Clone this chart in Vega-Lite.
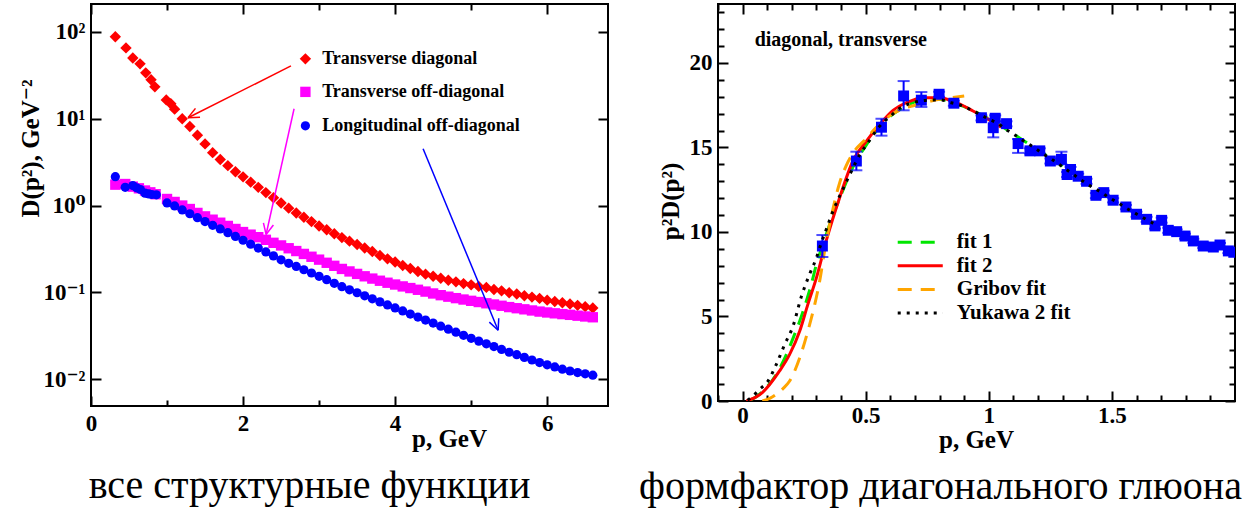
{
  "$schema": "https://vega.github.io/schema/vega-lite/v6.json",
  "background": "white",
  "padding": {"left": 17, "top": 2, "right": 5, "bottom": 5},
  "bounds": "flush",
  "spacing": 110,
  "resolve": {"scale": {"color": "independent", "shape": "independent", "size": "independent", "strokeDash": "independent"}},
  "config": {
    "font": "'Liberation Serif', 'DejaVu Serif', serif",
    "view": {"stroke": "black", "strokeWidth": 2, "fill": "white"},
    "axis": {"domain": false, "grid": false, "ticks": true, "tickColor": "black", "tickWidth": 2,
      "labelColor": "black", "labelFont": "'Liberation Serif', 'DejaVu Serif', serif", "labelFontWeight": "bold", "labelFontSize": 23,
      "labelFlush": false, "labelOverlap": false,
      "titleColor": "black", "titleFont": "'Liberation Serif', 'DejaVu Serif', serif", "titleFontWeight": "bold", "titleFontSize": 25},
    "text": {"font": "'Liberation Serif', 'DejaVu Serif', serif"},
    "title": {"font": "'Liberation Serif', 'DejaVu Serif', serif"}
  },
  "datasets": {
    "left": [
      {"p":0.32,"D":88,"s":"td"},{"p":0.46,"D":65.5,"s":"td"},{"p":0.55,"D":50.2,"s":"td"},{"p":0.645,"D":42.9,"s":"td"},{"p":0.72,"D":33.8,"s":"td"},{"p":0.79,"D":28.1,"s":"td"},{"p":0.84,"D":23.3,"s":"td"},{"p":0.99,"D":16.5,"s":"td"},{"p":1.05,"D":14.9,"s":"td"},{"p":1.1,"D":12.9,"s":"td"},{"p":1.2,"D":10.0,"s":"td"},{"p":1.3,"D":8.13,"s":"td"},{"p":1.4,"D":6.46,"s":"td"},{"p":1.5,"D":5.13,"s":"td"},{"p":1.6,"D":4.07,"s":"td"},{"p":1.7,"D":3.39,"s":"td"},{"p":1.8,"D":2.88,"s":"td"},{"p":1.9,"D":2.45,"s":"td"},{"p":2.0,"D":2.14,"s":"td"},{"p":2.1,"D":1.86,"s":"td"},{"p":2.2,"D":1.62,"s":"td"},{"p":2.3,"D":1.41,"s":"td"},{"p":2.4,"D":1.23,"s":"td"},{"p":2.5,"D":1.07,"s":"td"},{"p":2.6,"D":0.933,"s":"td"},{"p":2.7,"D":0.822,"s":"td"},{"p":2.8,"D":0.733,"s":"td"},{"p":2.9,"D":0.653,"s":"td"},{"p":3.0,"D":0.582,"s":"td"},{"p":3.1,"D":0.525,"s":"td"},{"p":3.2,"D":0.473,"s":"td"},{"p":3.3,"D":0.427,"s":"td"},{"p":3.4,"D":0.389,"s":"td"},{"p":3.5,"D":0.355,"s":"td"},{"p":3.6,"D":0.324,"s":"td"},{"p":3.7,"D":0.295,"s":"td"},{"p":3.8,"D":0.266,"s":"td"},{"p":3.9,"D":0.243,"s":"td"},{"p":4.0,"D":0.224,"s":"td"},{"p":4.1,"D":0.204,"s":"td"},{"p":4.2,"D":0.188,"s":"td"},{"p":4.3,"D":0.174,"s":"td"},{"p":4.4,"D":0.162,"s":"td"},{"p":4.5,"D":0.153,"s":"td"},{"p":4.6,"D":0.145,"s":"td"},{"p":4.7,"D":0.138,"s":"td"},{"p":4.8,"D":0.132,"s":"td"},{"p":4.9,"D":0.126,"s":"td"},{"p":5.0,"D":0.122,"s":"td"},{"p":5.1,"D":0.117,"s":"td"},{"p":5.2,"D":0.114,"s":"td"},{"p":5.3,"D":0.108,"s":"td"},{"p":5.4,"D":0.104,"s":"td"},{"p":5.5,"D":0.0989,"s":"td"},{"p":5.6,"D":0.0955,"s":"td"},{"p":5.7,"D":0.0912,"s":"td"},{"p":5.8,"D":0.0881,"s":"td"},{"p":5.9,"D":0.0851,"s":"td"},{"p":6.0,"D":0.0813,"s":"td"},{"p":6.1,"D":0.0785,"s":"td"},{"p":6.2,"D":0.0759,"s":"td"},{"p":6.3,"D":0.0733,"s":"td"},{"p":6.4,"D":0.0708,"s":"td"},{"p":6.5,"D":0.0684,"s":"td"},{"p":6.6,"D":0.0661,"s":"td"},
      {"p":0.32,"D":1.74,"s":"tod"},{"p":0.45,"D":1.77,"s":"tod"},{"p":0.55,"D":1.65,"s":"tod"},{"p":0.63,"D":1.58,"s":"tod"},{"p":0.71,"D":1.49,"s":"tod"},{"p":0.78,"D":1.42,"s":"tod"},{"p":0.85,"D":1.35,"s":"tod"},{"p":1.0,"D":1.19,"s":"tod"},{"p":1.1,"D":1.10,"s":"tod"},{"p":1.2,"D":1.00,"s":"tod"},{"p":1.3,"D":0.912,"s":"tod"},{"p":1.4,"D":0.822,"s":"tod"},{"p":1.5,"D":0.750,"s":"tod"},{"p":1.6,"D":0.687,"s":"tod"},{"p":1.7,"D":0.634,"s":"tod"},{"p":1.8,"D":0.582,"s":"tod"},{"p":1.9,"D":0.537,"s":"tod"},{"p":2.0,"D":0.495,"s":"tod"},{"p":2.1,"D":0.462,"s":"tod"},{"p":2.2,"D":0.432,"s":"tod"},{"p":2.3,"D":0.403,"s":"tod"},{"p":2.4,"D":0.372,"s":"tod"},{"p":2.5,"D":0.347,"s":"tod"},{"p":2.6,"D":0.322,"s":"tod"},{"p":2.7,"D":0.299,"s":"tod"},{"p":2.8,"D":0.277,"s":"tod"},{"p":2.9,"D":0.257,"s":"tod"},{"p":3.0,"D":0.238,"s":"tod"},{"p":3.1,"D":0.219,"s":"tod"},{"p":3.2,"D":0.202,"s":"tod"},{"p":3.3,"D":0.186,"s":"tod"},{"p":3.4,"D":0.174,"s":"tod"},{"p":3.5,"D":0.163,"s":"tod"},{"p":3.6,"D":0.153,"s":"tod"},{"p":3.7,"D":0.144,"s":"tod"},{"p":3.8,"D":0.136,"s":"tod"},{"p":3.9,"D":0.129,"s":"tod"},{"p":4.0,"D":0.123,"s":"tod"},{"p":4.1,"D":0.117,"s":"tod"},{"p":4.2,"D":0.112,"s":"tod"},{"p":4.3,"D":0.107,"s":"tod"},{"p":4.4,"D":0.102,"s":"tod"},{"p":4.5,"D":0.097,"s":"tod"},{"p":4.6,"D":0.0927,"s":"tod"},{"p":4.7,"D":0.0891,"s":"tod"},{"p":4.8,"D":0.0857,"s":"tod"},{"p":4.9,"D":0.0826,"s":"tod"},{"p":5.0,"D":0.0798,"s":"tod"},{"p":5.1,"D":0.0773,"s":"tod"},{"p":5.2,"D":0.0748,"s":"tod"},{"p":5.3,"D":0.0724,"s":"tod"},{"p":5.4,"D":0.070,"s":"tod"},{"p":5.5,"D":0.0676,"s":"tod"},{"p":5.6,"D":0.0656,"s":"tod"},{"p":5.7,"D":0.0637,"s":"tod"},{"p":5.8,"D":0.0618,"s":"tod"},{"p":5.9,"D":0.060,"s":"tod"},{"p":6.0,"D":0.0586,"s":"tod"},{"p":6.1,"D":0.0573,"s":"tod"},{"p":6.2,"D":0.0561,"s":"tod"},{"p":6.3,"D":0.055,"s":"tod"},{"p":6.4,"D":0.0538,"s":"tod"},{"p":6.5,"D":0.0527,"s":"tod"},{"p":6.6,"D":0.0516,"s":"tod"},
      {"p":0.32,"D":2.15,"s":"lod"},{"p":0.45,"D":1.62,"s":"lod"},{"p":0.55,"D":1.70,"s":"lod"},{"p":0.6,"D":1.60,"s":"lod"},{"p":0.65,"D":1.53,"s":"lod"},{"p":0.71,"D":1.39,"s":"lod"},{"p":0.76,"D":1.36,"s":"lod"},{"p":0.8,"D":1.34,"s":"lod"},{"p":0.86,"D":1.33,"s":"lod"},{"p":1.0,"D":1.072,"s":"lod"},{"p":1.1,"D":0.989,"s":"lod"},{"p":1.2,"D":0.891,"s":"lod"},{"p":1.3,"D":0.804,"s":"lod"},{"p":1.4,"D":0.724,"s":"lod"},{"p":1.5,"D":0.653,"s":"lod"},{"p":1.6,"D":0.592,"s":"lod"},{"p":1.7,"D":0.537,"s":"lod"},{"p":1.8,"D":0.486,"s":"lod"},{"p":1.9,"D":0.441,"s":"lod"},{"p":2.0,"D":0.398,"s":"lod"},{"p":2.1,"D":0.359,"s":"lod"},{"p":2.2,"D":0.324,"s":"lod"},{"p":2.3,"D":0.292,"s":"lod"},{"p":2.4,"D":0.263,"s":"lod"},{"p":2.5,"D":0.237,"s":"lod"},{"p":2.6,"D":0.216,"s":"lod"},{"p":2.7,"D":0.199,"s":"lod"},{"p":2.8,"D":0.182,"s":"lod"},{"p":2.9,"D":0.167,"s":"lod"},{"p":3.0,"D":0.153,"s":"lod"},{"p":3.1,"D":0.140,"s":"lod"},{"p":3.2,"D":0.127,"s":"lod"},{"p":3.3,"D":0.116,"s":"lod"},{"p":3.4,"D":0.107,"s":"lod"},{"p":3.5,"D":0.0989,"s":"lod"},{"p":3.6,"D":0.0912,"s":"lod"},{"p":3.7,"D":0.0841,"s":"lod"},{"p":3.8,"D":0.0776,"s":"lod"},{"p":3.9,"D":0.0716,"s":"lod"},{"p":4.0,"D":0.0661,"s":"lod"},{"p":4.1,"D":0.061,"s":"lod"},{"p":4.2,"D":0.0562,"s":"lod"},{"p":4.3,"D":0.0519,"s":"lod"},{"p":4.4,"D":0.0479,"s":"lod"},{"p":4.5,"D":0.0442,"s":"lod"},{"p":4.6,"D":0.0407,"s":"lod"},{"p":4.7,"D":0.0376,"s":"lod"},{"p":4.8,"D":0.0347,"s":"lod"},{"p":4.9,"D":0.032,"s":"lod"},{"p":5.0,"D":0.0295,"s":"lod"},{"p":5.1,"D":0.0274,"s":"lod"},{"p":5.2,"D":0.0255,"s":"lod"},{"p":5.3,"D":0.0237,"s":"lod"},{"p":5.4,"D":0.022,"s":"lod"},{"p":5.5,"D":0.0204,"s":"lod"},{"p":5.6,"D":0.0191,"s":"lod"},{"p":5.7,"D":0.0178,"s":"lod"},{"p":5.8,"D":0.0166,"s":"lod"},{"p":5.9,"D":0.0155,"s":"lod"},{"p":6.0,"D":0.0146,"s":"lod"},{"p":6.1,"D":0.0138,"s":"lod"},{"p":6.2,"D":0.013,"s":"lod"},{"p":6.3,"D":0.0124,"s":"lod"},{"p":6.4,"D":0.0119,"s":"lod"},{"p":6.5,"D":0.0115,"s":"lod"},{"p":6.6,"D":0.0111,"s":"lod"}
    ],
    "lerr": [
      {"p":0.32,"lo":81,"hi":95,"s":"td"},
      {"p":0.32,"lo":1.94,"hi":2.4,"s":"lod"}
    ],
    "lleg": [
      {"p":2.82,"tp":3.04,"D":49,"s":"td","t":"Transverse diagonal"},
      {"p":2.82,"tp":3.04,"D":20.4,"s":"tod","t":"Transverse off-diagonal"},
      {"p":2.82,"tp":3.04,"D":8.3,"s":"lod","t":"Longitudinal off-diagonal"}
    ],
    "arr": [
      {"x1":2.63,"y1":40.6,"x2":1.276,"y2":10.27,"c":"#ff0000"},
      {"x1":1.276,"y1":10.27,"x2":1.434,"y2":10.38,"c":"#ff0000"},
      {"x1":1.276,"y1":10.27,"x2":1.374,"y2":13.17,"c":"#ff0000"},
      {"x1":2.671,"y1":13.03,"x2":2.303,"y2":0.464,"c":"#ff00ff"},
      {"x1":2.303,"y1":0.464,"x2":2.399,"y2":0.597,"c":"#ff00ff"},
      {"x1":2.303,"y1":0.464,"x2":2.268,"y2":0.632,"c":"#ff00ff"},
      {"x1":4.368,"y1":4.52,"x2":5.355,"y2":0.0366,"c":"#0000ff"},
      {"x1":5.355,"y1":0.0366,"x2":5.363,"y2":0.0502,"c":"#0000ff"},
      {"x1":5.355,"y1":0.0366,"x2":5.239,"y2":0.0453,"c":"#0000ff"}
    ],
    "sq": [
      {"p":0.324,"v":9.17,"lo":8.52,"hi":9.82},{"p":0.462,"v":14.2,"lo":13.65,"hi":14.75},{"p":0.564,"v":16.2,"lo":15.7,"hi":16.7},{"p":0.654,"v":18.05,"lo":17.2,"hi":18.93},{"p":0.726,"v":17.8,"lo":17.4,"hi":18.28},{"p":0.798,"v":18.15,"lo":18.0,"hi":18.3},{"p":0.858,"v":17.62,"lo":17.47,"hi":17.77},{"p":0.97,"v":16.76,"lo":16.6,"hi":16.9},{"p":1.018,"v":16.17,"lo":15.6,"hi":16.7},{"p":1.026,"v":16.73,"lo":16.55,"hi":16.9},{"p":1.072,"v":16.41,"lo":16.25,"hi":16.55},{"p":1.119,"v":15.23,"lo":14.68,"hi":15.5},{"p":1.167,"v":14.8,"lo":14.65,"hi":14.95},{"p":1.207,"v":14.8,"lo":14.65,"hi":14.95},{"p":1.25,"v":14.2,"lo":14.05,"hi":14.35},{"p":1.295,"v":14.3,"lo":14.0,"hi":14.75},{"p":1.318,"v":13.4,"lo":13.25,"hi":13.55},{"p":1.332,"v":13.7,"lo":13.55,"hi":13.85},{"p":1.363,"v":13.3,"lo":13.15,"hi":13.45},{"p":1.397,"v":13.0,"lo":12.85,"hi":13.15},{"p":1.435,"v":12.17,"lo":12.0,"hi":12.3},{"p":1.467,"v":12.33,"lo":12.2,"hi":12.45},{"p":1.505,"v":11.88,"lo":11.75,"hi":12.0},{"p":1.557,"v":11.48,"lo":11.35,"hi":11.6},{"p":1.6,"v":11.05,"lo":10.9,"hi":11.2},{"p":1.641,"v":10.75,"lo":10.6,"hi":10.9},{"p":1.675,"v":10.36,"lo":10.2,"hi":10.5},{"p":1.702,"v":10.69,"lo":10.55,"hi":10.85},{"p":1.729,"v":10.1,"lo":9.95,"hi":10.25},{"p":1.763,"v":10.02,"lo":9.9,"hi":10.15},{"p":1.797,"v":9.76,"lo":9.6,"hi":9.9},{"p":1.831,"v":9.47,"lo":9.35,"hi":9.6},{"p":1.871,"v":9.17,"lo":9.05,"hi":9.3},{"p":1.912,"v":9.11,"lo":9.0,"hi":9.25},{"p":1.939,"v":9.23,"lo":9.1,"hi":9.35},{"p":1.973,"v":8.88,"lo":8.75,"hi":9.0},{"p":1.995,"v":8.8,"lo":8.7,"hi":8.9}
    ],
    "fit1": [
      {"p":0.03,"v":0.05},{"p":0.06,"v":0.3},{"p":0.096,"v":0.79},{"p":0.137,"v":1.58},{"p":0.178,"v":2.76},{"p":0.211,"v":3.94},{"p":0.232,"v":4.73},{"p":0.259,"v":5.92},{"p":0.279,"v":6.9},{"p":0.3,"v":8.1},{"p":0.326,"v":9.27},{"p":0.35,"v":10.3},{"p":0.4,"v":12.2},{"p":0.45,"v":13.9},{"p":0.5,"v":15.1},{"p":0.55,"v":16.1},{"p":0.6,"v":16.85},{"p":0.65,"v":17.35},{"p":0.7,"v":17.7},{"p":0.75,"v":17.85},{"p":0.8,"v":17.85},{"p":0.85,"v":17.68},{"p":0.9,"v":17.42},{"p":0.95,"v":17.08},{"p":1.0,"v":16.7},{"p":1.05,"v":16.28},{"p":1.1,"v":15.8},{"p":1.15,"v":15.33},{"p":1.2,"v":14.85},{"p":1.25,"v":14.38},{"p":1.3,"v":13.9}
    ],
    "fit2": [
      {"p":0.015,"v":0},{"p":0.05,"v":0.2},{"p":0.08,"v":0.5},{"p":0.11,"v":0.98},{"p":0.15,"v":1.78},{"p":0.191,"v":2.76},{"p":0.232,"v":4.14},{"p":0.265,"v":5.72},{"p":0.3,"v":7.3},{"p":0.34,"v":9.5},{"p":0.394,"v":12.03},{"p":0.448,"v":14.2},{"p":0.503,"v":15.38},{"p":0.557,"v":16.37},{"p":0.611,"v":17.2},{"p":0.665,"v":17.65},{"p":0.733,"v":17.95},{"p":0.8,"v":17.95},{"p":0.869,"v":17.65},{"p":0.936,"v":17.16},{"p":1.0,"v":16.65},{"p":1.05,"v":16.2}
    ],
    "gribov": [
      {"p":0.08,"v":0},{"p":0.11,"v":0.15},{"p":0.137,"v":0.4},{"p":0.165,"v":0.75},{"p":0.191,"v":1.18},{"p":0.232,"v":2.56},{"p":0.265,"v":4.14},{"p":0.293,"v":5.72},{"p":0.313,"v":7.1},{"p":0.333,"v":8.88},{"p":0.36,"v":10.9},{"p":0.394,"v":12.9},{"p":0.42,"v":13.9},{"p":0.45,"v":14.7},{"p":0.5,"v":15.5},{"p":0.55,"v":16.3},{"p":0.6,"v":16.9},{"p":0.65,"v":17.3},{"p":0.7,"v":17.5},{"p":0.75,"v":17.7},{"p":0.8,"v":17.85},{"p":0.85,"v":17.95},{"p":0.9,"v":18.05}
    ],
    "yukawa": [
      {"p":0.02,"v":0.05},{"p":0.035,"v":0.2},{"p":0.069,"v":0.69},{"p":0.103,"v":1.18},{"p":0.137,"v":2.17},{"p":0.171,"v":3.35},{"p":0.205,"v":4.44},{"p":0.239,"v":6.2},{"p":0.272,"v":7.5},{"p":0.3,"v":8.48},{"p":0.313,"v":9.07},{"p":0.34,"v":10.16},{"p":0.37,"v":11.34},{"p":0.405,"v":12.46},{"p":0.442,"v":13.6},{"p":0.478,"v":14.63},{"p":0.503,"v":15.15},{"p":0.55,"v":16.14},{"p":0.604,"v":16.9},{"p":0.638,"v":17.32},{"p":0.679,"v":17.6},{"p":0.722,"v":17.75},{"p":0.763,"v":17.81},{"p":0.804,"v":17.81},{"p":0.848,"v":17.65},{"p":0.886,"v":17.5},{"p":0.923,"v":17.26},{"p":0.997,"v":16.7},{"p":1.038,"v":16.41},{"p":1.069,"v":16.08},{"p":1.106,"v":15.74},{"p":1.142,"v":15.38},{"p":1.176,"v":15.07},{"p":1.21,"v":14.73},{"p":1.245,"v":14.4},{"p":1.279,"v":14.07},{"p":1.313,"v":13.71},{"p":1.347,"v":13.37},{"p":1.381,"v":13.02},{"p":1.417,"v":12.68},{"p":1.454,"v":12.37},{"p":1.489,"v":12.03},{"p":1.526,"v":11.72},{"p":1.56,"v":11.4},{"p":1.596,"v":11.1},{"p":1.631,"v":10.81},{"p":1.668,"v":10.51}
    ],
    "rleg": [
      {"x1":0.63,"x2":0.813,"tx":0.87,"y":9.4,"fit":"fit 1"},
      {"x1":0.63,"x2":0.813,"tx":0.87,"y":8.0,"fit":"fit 2"},
      {"x1":0.63,"x2":0.813,"tx":0.87,"y":6.6,"fit":"Gribov fit"},
      {"x1":0.63,"x2":0.813,"tx":0.87,"y":5.2,"fit":"Yukawa 2 fit"}
    ],
    "rlab": [
      {"p":0.049,"v":21.0,"t":"diagonal, transverse"}
    ]
  },
  "hconcat": [
    {
      "width": 517,
      "height": 402,
      "title": {"text": "все структурные функции", "orient": "bottom", "frame": "group", "anchor": "middle", "dx": -40, "offset": 47, "baseline": "alphabetic", "fontSize": 40, "font": "'Liberation Serif', 'DejaVu Serif', serif", "fontWeight": "normal", "color": "black"},
      "resolve": {"axis": {"x": "independent", "y": "independent"}},
      "layer": [
        {
          "data": {"name": "lerr"},
          "mark": {"type": "rule", "strokeWidth": 2},
          "encoding": {
            "x": {"field": "p", "type": "quantitative", "scale": {"domain": [0, 6.8], "nice": false, "zero": false},
              "axis": {"orient": "top", "values": [0, 2, 4, 6], "tickSize": -10, "labels": false, "title": null}},
            "y": {"field": "lo", "type": "quantitative", "scale": {"type": "log", "domain": [0.0049, 210], "nice": false},
              "axis": {"orient": "right", "values": [0.01, 0.1, 1, 10, 100], "tickSize": -10, "labels": false, "title": null}},
            "y2": {"field": "hi"},
            "color": {"field": "s", "type": "nominal", "scale": {"domain": ["td", "tod", "lod"], "range": ["#ff0000", "#ff00ff", "#0000ff"]}, "legend": null}
          }
        },
        {
          "data": {"name": "left"},
          "mark": {"type": "point", "filled": true, "opacity": 1, "clip": true},
          "encoding": {
            "x": {"field": "p", "type": "quantitative", "scale": {"domain": [0, 6.8], "nice": false, "zero": false},
              "axis": {"orient": "bottom", "values": [0, 2, 4, 6], "tickSize": -10, "labelPadding": 16, "title": "p, GeV", "titleX": 358, "titleY": 40, "titleBaseline": "alphabetic", "titleAlign": "center"}},
            "y": {"field": "D", "type": "quantitative", "scale": {"type": "log", "domain": [0.0049, 210], "nice": false},
              "axis": {"orient": "left", "values": [0.01, 0.1, 1, 10, 100], "tickSize": -10, "labelPadding": 16,
                "labelExpr": "datum.value >= 50 ? '10²' : datum.value >= 5 ? '10¹' : datum.value >= 0.5 ? '10⁰' : datum.value >= 0.05 ? '10⁻¹' : '10⁻²'",
                "title": "D(p²), GeV⁻²", "titleX": -61, "titleY": 144, "titleAlign": "center", "titleBaseline": "middle", "titleAngle": -90}},
            "color": {"field": "s", "type": "nominal", "scale": {"domain": ["td", "tod", "lod"], "range": ["#ff0000", "#ff00ff", "#0000ff"]}, "legend": null},
            "shape": {"field": "s", "type": "nominal", "scale": {"domain": ["td", "tod", "lod"], "range": ["diamond", "square", "circle"]}, "legend": null},
            "size": {"field": "s", "type": "nominal", "scale": {"domain": ["td", "tod", "lod"], "range": [130, 85, 95]}, "legend": null}
          }
        },
        {
          "data": {"name": "lleg"},
          "mark": {"type": "point", "filled": true, "opacity": 1},
          "encoding": {
            "x": {"field": "p", "type": "quantitative", "scale": {"domain": [0, 6.8], "nice": false, "zero": false},
              "axis": {"orient": "bottom", "values": [1, 3, 5], "tickSize": -6, "labels": false, "title": null}},
            "y": {"field": "D", "type": "quantitative", "scale": {"type": "log", "domain": [0.0049, 210], "nice": false}, "axis": null},
            "color": {"field": "s", "type": "nominal", "scale": {"domain": ["td", "tod", "lod"], "range": ["#ff0000", "#ff00ff", "#0000ff"]}, "legend": null},
            "shape": {"field": "s", "type": "nominal", "scale": {"domain": ["td", "tod", "lod"], "range": ["diamond", "square", "circle"]}, "legend": null},
            "size": {"field": "s", "type": "nominal", "scale": {"domain": ["td", "tod", "lod"], "range": [110, 75, 85]}, "legend": null}
          }
        },
        {
          "data": {"name": "lleg"},
          "mark": {"type": "text", "align": "left", "baseline": "middle", "fontSize": 18, "fontWeight": "bold", "font": "'Liberation Serif', 'DejaVu Serif', serif", "color": "black"},
          "encoding": {
            "x": {"field": "tp", "type": "quantitative", "scale": {"domain": [0, 6.8], "nice": false, "zero": false},
              "axis": {"orient": "top", "values": [1, 3, 5], "tickSize": -6, "labels": false, "title": null}},
            "y": {"field": "D", "type": "quantitative", "scale": {"type": "log", "domain": [0.0049, 210], "nice": false}, "axis": null},
            "text": {"field": "t"}
          }
        },
        {
          "data": {"name": "arr"},
          "mark": {"type": "rule", "strokeWidth": 1.5},
          "encoding": {
            "x": {"field": "x1", "type": "quantitative", "scale": {"domain": [0, 6.8], "nice": false, "zero": false}, "axis": null},
            "y": {"field": "y1", "type": "quantitative", "scale": {"type": "log", "domain": [0.0049, 210], "nice": false}, "axis": null},
            "x2": {"field": "x2"},
            "y2": {"field": "y2"},
            "color": {"field": "c", "type": "nominal", "scale": null, "legend": null}
          }
        }
      ]
    },
    {
      "width": 517,
      "height": 397,
      "title": {"text": "формфактор диагонального глюона", "orient": "bottom", "frame": "group", "anchor": "middle", "dx": -36, "offset": 47, "baseline": "alphabetic", "fontSize": 40, "font": "'Liberation Serif', 'DejaVu Serif', serif", "fontWeight": "normal", "color": "black"},
      "resolve": {"axis": {"x": "independent", "y": "independent"}},
      "layer": [
        {
          "data": {"name": "fit1"},
          "mark": {"type": "line", "color": "#00e600", "strokeWidth": 3, "strokeDash": [14, 9], "interpolate": "monotone", "clip": true},
          "encoding": {
            "x": {"field": "p", "type": "quantitative", "scale": {"domain": [-0.1, 2.0], "nice": false, "zero": false},
              "axis": {"orient": "bottom", "values": [0, 0.5, 1, 1.5], "format": "~g", "tickSize": -10, "labelPadding": 13, "title": "p, GeV", "titleX": 258, "titleY": 46, "titleBaseline": "alphabetic", "titleAlign": "center"}},
            "y": {"field": "v", "type": "quantitative", "scale": {"domain": [0, 23.49], "nice": false, "zero": false},
              "axis": {"orient": "left", "values": [0, 5, 10, 15, 20], "tickSize": -10, "labelPadding": 16, "title": "p²D(p²)", "titleX": -48, "titleY": 197, "titleAlign": "center", "titleBaseline": "middle", "titleAngle": -90}}
          }
        },
        {
          "data": {"name": "fit2"},
          "mark": {"type": "line", "color": "#ff0000", "strokeWidth": 3, "interpolate": "monotone", "clip": true},
          "encoding": {
            "x": {"field": "p", "type": "quantitative", "scale": {"domain": [-0.1, 2.0], "nice": false, "zero": false},
              "axis": {"orient": "top", "values": [0, 0.5, 1, 1.5], "tickSize": -10, "labels": false, "title": null}},
            "y": {"field": "v", "type": "quantitative", "scale": {"domain": [0, 23.49], "nice": false, "zero": false},
              "axis": {"orient": "right", "values": [0, 5, 10, 15, 20], "tickSize": -10, "labels": false, "title": null}}
          }
        },
        {
          "data": {"name": "gribov"},
          "mark": {"type": "line", "color": "#ffa500", "strokeWidth": 3, "strokeDash": [14, 9], "interpolate": "monotone", "clip": true},
          "encoding": {
            "x": {"field": "p", "type": "quantitative", "scale": {"domain": [-0.1, 2.0], "nice": false, "zero": false},
              "axis": {"orient": "bottom", "values": [-0.1, 0.1, 0.2, 0.3, 0.4, 0.6, 0.7, 0.8, 0.9, 1.1, 1.2, 1.3, 1.4, 1.6, 1.7, 1.8, 1.9], "tickSize": -6, "labels": false, "title": null}},
            "y": {"field": "v", "type": "quantitative", "scale": {"domain": [0, 23.49], "nice": false, "zero": false},
              "axis": {"orient": "left", "values": [1, 2, 3, 4, 6, 7, 8, 9, 11, 12, 13, 14, 16, 17, 18, 19, 21, 22, 23], "tickSize": -6, "labels": false, "title": null}}
          }
        },
        {
          "data": {"name": "sq"},
          "mark": {"type": "rule", "color": "#0000ff", "strokeWidth": 2, "clip": true},
          "encoding": {
            "x": {"field": "p", "type": "quantitative", "scale": {"domain": [-0.1, 2.0], "nice": false, "zero": false},
              "axis": {"orient": "top", "values": [-0.1, 0.1, 0.2, 0.3, 0.4, 0.6, 0.7, 0.8, 0.9, 1.1, 1.2, 1.3, 1.4, 1.6, 1.7, 1.8, 1.9], "tickSize": -6, "labels": false, "title": null}},
            "y": {"field": "lo", "type": "quantitative", "scale": {"domain": [0, 23.49], "nice": false, "zero": false},
              "axis": {"orient": "right", "values": [1, 2, 3, 4, 6, 7, 8, 9, 11, 12, 13, 14, 16, 17, 18, 19, 21, 22, 23], "tickSize": -6, "labels": false, "title": null}},
            "y2": {"field": "hi"}
          }
        },
        {
          "data": {"name": "sq"},
          "mark": {"type": "tick", "orient": "horizontal", "color": "#0000ff", "size": 12, "thickness": 2, "clip": true},
          "encoding": {
            "x": {"field": "p", "type": "quantitative", "scale": {"domain": [-0.1, 2.0], "nice": false, "zero": false}, "axis": null},
            "y": {"field": "lo", "type": "quantitative", "scale": {"domain": [0, 23.49], "nice": false, "zero": false}, "axis": null}
          }
        },
        {
          "data": {"name": "sq"},
          "mark": {"type": "tick", "orient": "horizontal", "color": "#0000ff", "size": 12, "thickness": 2, "clip": true},
          "encoding": {
            "x": {"field": "p", "type": "quantitative", "scale": {"domain": [-0.1, 2.0], "nice": false, "zero": false}, "axis": null},
            "y": {"field": "hi", "type": "quantitative", "scale": {"domain": [0, 23.49], "nice": false, "zero": false}, "axis": null}
          }
        },
        {
          "data": {"name": "sq"},
          "mark": {"type": "point", "shape": "square", "filled": true, "opacity": 1, "color": "#0000ff", "size": 120, "clip": true},
          "encoding": {
            "x": {"field": "p", "type": "quantitative", "scale": {"domain": [-0.1, 2.0], "nice": false, "zero": false}, "axis": null},
            "y": {"field": "v", "type": "quantitative", "scale": {"domain": [0, 23.49], "nice": false, "zero": false}, "axis": null}
          }
        },
        {
          "data": {"name": "yukawa"},
          "mark": {"type": "line", "color": "black", "strokeWidth": 3, "strokeDash": [3, 6], "interpolate": "monotone", "clip": true},
          "encoding": {
            "x": {"field": "p", "type": "quantitative", "scale": {"domain": [-0.1, 2.0], "nice": false, "zero": false}, "axis": null},
            "y": {"field": "v", "type": "quantitative", "scale": {"domain": [0, 23.49], "nice": false, "zero": false}, "axis": null}
          }
        },
        {
          "data": {"name": "rleg"},
          "mark": {"type": "rule", "strokeWidth": 3},
          "encoding": {
            "x": {"field": "x1", "type": "quantitative", "scale": {"domain": [-0.1, 2.0], "nice": false, "zero": false}, "axis": null},
            "x2": {"field": "x2"},
            "y": {"field": "y", "type": "quantitative", "scale": {"domain": [0, 23.49], "nice": false, "zero": false}, "axis": null},
            "color": {"field": "fit", "type": "nominal", "scale": {"domain": ["fit 1", "fit 2", "Gribov fit", "Yukawa 2 fit"], "range": ["#00e600", "#ff0000", "#ffa500", "black"]}, "legend": null},
            "strokeDash": {"field": "fit", "type": "nominal", "scale": {"domain": ["fit 1", "fit 2", "Gribov fit", "Yukawa 2 fit"], "range": [[14, 9], [1, 0], [14, 9], [3, 6]]}, "legend": null}
          }
        },
        {
          "data": {"name": "rleg"},
          "mark": {"type": "text", "align": "left", "baseline": "middle", "fontSize": 21, "fontWeight": "bold", "font": "'Liberation Serif', 'DejaVu Serif', serif", "color": "black"},
          "encoding": {
            "x": {"field": "tx", "type": "quantitative", "scale": {"domain": [-0.1, 2.0], "nice": false, "zero": false}, "axis": null},
            "y": {"field": "y", "type": "quantitative", "scale": {"domain": [0, 23.49], "nice": false, "zero": false}, "axis": null},
            "text": {"field": "fit"}
          }
        },
        {
          "data": {"name": "rlab"},
          "mark": {"type": "text", "align": "left", "baseline": "alphabetic", "fontSize": 20, "fontWeight": "bold", "font": "'Liberation Serif', 'DejaVu Serif', serif", "color": "black"},
          "encoding": {
            "x": {"field": "p", "type": "quantitative", "scale": {"domain": [-0.1, 2.0], "nice": false, "zero": false}, "axis": null},
            "y": {"field": "v", "type": "quantitative", "scale": {"domain": [0, 23.49], "nice": false, "zero": false}, "axis": null},
            "text": {"field": "t"}
          }
        }
      ]
    }
  ]
}
